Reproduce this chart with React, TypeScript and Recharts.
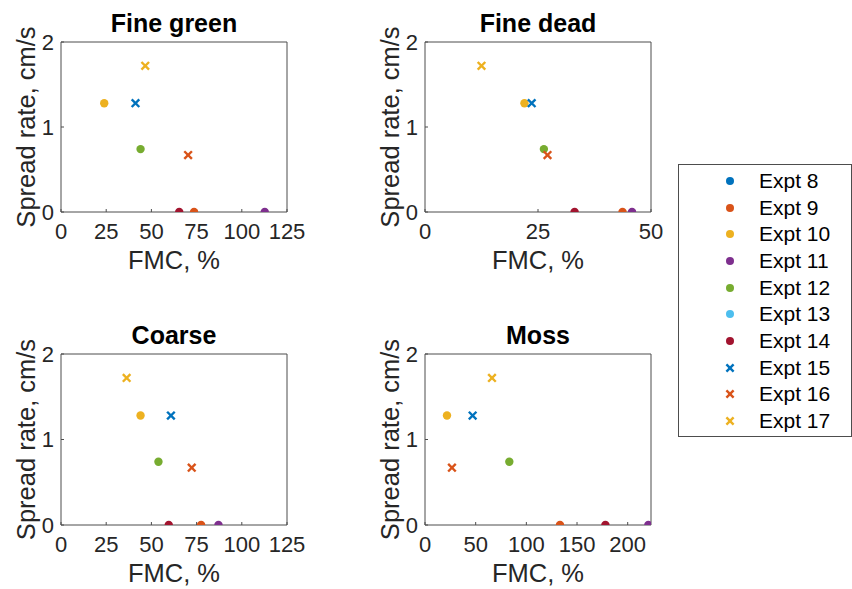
import React from 'react';
import { ScatterChart, Scatter, XAxis, YAxis } from 'recharts';

const expts = ['Expt 8', 'Expt 9', 'Expt 10', 'Expt 11', 'Expt 12', 'Expt 13', 'Expt 14', 'Expt 15', 'Expt 16', 'Expt 17'];
const colors = ['#0072BD', '#D95319', '#EDB120', '#7E2F8E', '#77AC30', '#4DBEEE', '#A2142F', '#0072BD', '#D95319', '#EDB120'];
const markers = ['o', 'o', 'o', 'o', 'o', 'o', 'o', 'x', 'x', 'x'];

// spread rate, cm/s (null = no value)
const spreadRate = [null, 0, 1.28, 0, 0.74, null, 0, 1.28, 0.67, 1.72];

// FMC, % for each fuel type
const fmcFineGreen = [null, 73.6, 23.9, 112.7, 44.0, null, 65.4, 41.2, 70.3, 46.6];
const fmcFineDead = [null, 43.7, 22.0, 45.8, 26.3, null, 33.1, 23.6, 27.1, 12.5];
const fmcCoarse = [null, 77.5, 44.0, 87.1, 53.9, null, 59.6, 60.8, 72.3, 36.3];
const fmcMoss = [null, 133.2, 21.7, 220.4, 83.2, null, 178.0, 47.0, 26.6, 66.1];

const ticks125 = [0, 25, 50, 75, 100, 125];
const ticks50 = [0, 25, 50];
const ticksMoss = [0, 50, 100, 150, 200];
const yTicks = [0, 1, 2];

const FONT = '"Liberation Sans", Arial, Helvetica, sans-serif';
const AXIS = '#4d4d4d';
const TEXT = '#262626';

const makeShape = (kind: string, color: string) => (props: any) => {
  const { cx, cy } = props;
  if (cx == null || cy == null) return null;
  if (kind === 'x') {
    const r = 3.8;
    return (
      <g>
        <line x1={cx - r} y1={cy - r} x2={cx + r} y2={cy + r} stroke={color} strokeWidth={2.4} />
        <line x1={cx - r} y1={cy + r} x2={cx + r} y2={cy - r} stroke={color} strokeWidth={2.4} />
      </g>
    );
  }
  return <circle cx={cx} cy={cy} r={4.2} fill={color} />;
};

const XLabel = ({ viewBox }: any) => (
  <text
    x={viewBox.x + viewBox.width / 2}
    y={viewBox.y + 48}
    textAnchor="middle"
    dominantBaseline="central"
    fontSize={25.5}
    fontFamily={FONT}
    fill={TEXT}
  >
    FMC, %
  </text>
);

const YLabel = ({ viewBox }: any) => {
  const x = viewBox.x + 26;
  const y = viewBox.y + viewBox.height / 2;
  return (
    <text
      x={x}
      y={y}
      transform={`rotate(-90 ${x} ${y})`}
      textAnchor="middle"
      dominantBaseline="central"
      fontSize={25.5}
      fontFamily={FONT}
      fill={TEXT}
    >
      Spread rate, cm/s
    </text>
  );
};

interface PanelProps {
  title: string;
  fmc: (number | null)[];
  xMax: number;
  xTicks: number[];
  left: number;
  top: number;
  plotH: number;
}

const Panel = ({ title, fmc, xMax, xTicks, left, top, plotH }: PanelProps) => {
  const plotW = 226;
  const ml = 61;
  const mt = 42;
  const mr = 34;
  const xh = 62;
  const tickStyle = { fontSize: 22, fill: TEXT, fontFamily: FONT };
  return (
    <div style={{ position: 'absolute', left: left - ml, top: top - mt }}>
      <div
        style={{
          position: 'absolute',
          left: ml,
          top: mt - 30.7,
          width: plotW,
          textAlign: 'center',
          fontFamily: FONT,
          fontWeight: 'bold',
          fontSize: 25,
          lineHeight: '25px',
          color: '#000',
          whiteSpace: 'nowrap',
        }}
      >
        {title}
      </div>
      <ScatterChart width={ml + plotW + mr} height={mt + plotH + xh} margin={{ top: mt, right: mr, bottom: 0, left: 0 }}>
        <XAxis
          xAxisId="b"
          type="number"
          dataKey="x"
          domain={[0, xMax]}
          ticks={xTicks}
          allowDataOverflow
          height={xh}
          tickSize={-3}
          tickMargin={14}
          tick={tickStyle}
          axisLine={{ stroke: AXIS }}
          tickLine={{ stroke: AXIS }}
          label={<XLabel />}
        />
        <XAxis
          xAxisId="t"
          orientation="top"
          mirror
          type="number"
          domain={[0, xMax]}
          ticks={xTicks}
          allowDataOverflow
          tick={false}
          tickSize={3}
          axisLine={{ stroke: AXIS }}
          tickLine={{ stroke: AXIS }}
        />
        <YAxis
          yAxisId="l"
          type="number"
          dataKey="y"
          domain={[0, 2]}
          ticks={yTicks}
          allowDataOverflow
          width={ml}
          tickSize={-3}
          tickMargin={10}
          tick={tickStyle}
          axisLine={{ stroke: AXIS }}
          tickLine={{ stroke: AXIS }}
          label={<YLabel />}
        />
        <YAxis
          yAxisId="r"
          orientation="right"
          mirror
          type="number"
          domain={[0, 2]}
          ticks={yTicks}
          allowDataOverflow
          tick={false}
          tickSize={3}
          axisLine={{ stroke: AXIS }}
          tickLine={{ stroke: AXIS }}
        />
        {expts.map((name, i) => {
          const xv = fmc[i];
          const yv = spreadRate[i];
          const data = xv != null && yv != null ? [{ x: xv, y: yv }] : [];
          return (
            <Scatter
              key={name}
              name={name}
              xAxisId="b"
              yAxisId="l"
              data={data}
              fill={colors[i]}
              shape={makeShape(markers[i], colors[i])}
              isAnimationActive={false}
            />
          );
        })}
      </ScatterChart>
    </div>
  );
};

const LegendBox = () => (
  <div
    style={{
      position: 'absolute',
      left: 678,
      top: 164,
      width: 172,
      height: 271,
      border: `1px solid ${AXIS}`,
      background: '#fff',
      fontFamily: FONT,
    }}
  >
    {expts.map((name, i) => (
      <div
        key={name}
        style={{ position: 'absolute', left: 0, top: 16 + i * 26.67 - 13, height: 26, display: 'flex', alignItems: 'center' }}
      >
        <svg width={14} height={14} style={{ position: 'absolute', left: 44, top: 6 }}>
          {markers[i] === 'x' ? (
            <g>
              <line x1={3.4} y1={3.4} x2={10.6} y2={10.6} stroke={colors[i]} strokeWidth={2.4} />
              <line x1={3.4} y1={10.6} x2={10.6} y2={3.4} stroke={colors[i]} strokeWidth={2.4} />
            </g>
          ) : (
            <circle cx={7} cy={7} r={4} fill={colors[i]} />
          )}
        </svg>
        <span style={{ position: 'absolute', left: 80, top: 0, fontSize: 21, lineHeight: '26px', color: '#000', whiteSpace: 'nowrap' }}>
          {name}
        </span>
      </div>
    ))}
  </div>
);

export default function App() {
  return (
    <div style={{ position: 'absolute', left: 0, top: 0, width: 852, height: 589, background: '#fff', overflow: 'hidden' }}>
      <Panel title="Fine green" fmc={fmcFineGreen} xMax={125} xTicks={ticks125} left={61} top={42} plotH={170} />
      <Panel title="Fine dead" fmc={fmcFineDead} xMax={50} xTicks={ticks50} left={425} top={42} plotH={170} />
      <Panel title="Coarse" fmc={fmcCoarse} xMax={125} xTicks={ticks125} left={61} top={354} plotH={171} />
      <Panel title="Moss" fmc={fmcMoss} xMax={223} xTicks={ticksMoss} left={425} top={354} plotH={171} />
      <LegendBox />
    </div>
  );
}
